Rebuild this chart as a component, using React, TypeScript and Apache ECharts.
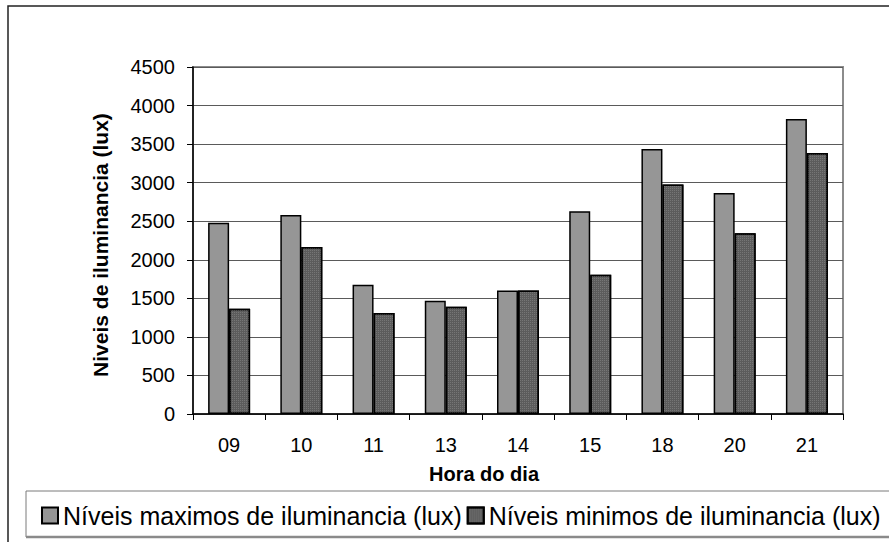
import React, { useEffect, useRef } from "react";
import * as echarts from "echarts";

const categories = ["09", "10", "11", "13", "14", "15", "18", "20", "21"];
const maxValues = [2480, 2580, 1675, 1470, 1600, 2630, 3435, 2865, 3825];
const minValues = [1365, 2165, 1310, 1390, 1600, 1805, 2975, 2345, 3385];
const seriesNames = [
  "Níveis maximos de iluminancia (lux)",
  "Níveis minimos de iluminancia (lux)",
];
const xTitle = "Hora do dia";
const yTitle = "Niveis de iluminancia (lux)";

const FONT = "'Liberation Sans', Arial, sans-serif";

export default function App() {
  const ref = useRef<HTMLDivElement>(null);
  useEffect(() => {
    if (!ref.current) return;
    const chart = echarts.init(ref.current, null, { renderer: "svg" });
    chart.setOption({
      animation: false,
      backgroundColor: "#ffffff",
      textStyle: { fontFamily: FONT },
      grid: {
        left: 193,
        right: 46,
        top: 67,
        bottom: 128,
        show: true,
        borderColor: "#8c8c8c",
        borderWidth: 2,
        backgroundColor: "transparent",
      },
      legend: {
        left: 36,
        top: 498,
        itemWidth: 16,
        itemHeight: 16,
        itemGap: 5,
        icon: "rect",
        textStyle: { fontSize: 25, color: "#000", fontFamily: FONT },
        data: seriesNames,
      },
      xAxis: {
        type: "category",
        data: categories,
        axisLine: { show: true, lineStyle: { color: "#000", width: 1.5 } },
        axisTick: { show: true, length: 6, alignWithLabel: false, interval: 0, lineStyle: { color: "#000" } },
        axisLabel: { fontSize: 20, color: "#000", margin: 21, fontFamily: FONT },
        splitLine: { show: false },
      },
      yAxis: {
        type: "value",
        min: 0,
        max: 4500,
        interval: 500,
        axisLine: { show: true, lineStyle: { color: "#000", width: 1.5 } },
        axisTick: { show: true, length: 6, lineStyle: { color: "#000" } },
        axisLabel: {
          fontSize: 20,
          color: "#000",
          margin: 18,
          fontFamily: FONT,
          formatter: (v: number) => String(v),
        },
        splitLine: { show: true, lineStyle: { color: "#5a5a5a", width: 1 } },
      },
      series: [
        {
          name: seriesNames[0],
          type: "bar",
          data: maxValues,
          barWidth: 21,
          barGap: "0%",
          itemStyle: { color: "#969696", borderColor: "#000", borderWidth: 1.5 },
        },
        {
          name: seriesNames[1],
          type: "bar",
          data: minValues,
          barWidth: 21,
          itemStyle: {
            color: "#5c5c5c",
            borderColor: "#000",
            borderWidth: 1.5,
            decal: {
              symbol: "rect",
              symbolSize: 1,
              dashArrayX: [1, 1],
              dashArrayY: [1, 1],
              color: "rgba(140,140,140,0.55)",
            },
          },
        },
      ],
      graphic: [
        {
          type: "rect",
          shape: { x: 8, y: 6, width: 1000, height: 1000 },
          style: { fill: "none", stroke: "#222", lineWidth: 1.5 },
          silent: true,
          z: -10,
        },
        {
          type: "rect",
          shape: { x: 26, y: 491, width: 1000, height: 46 },
          style: { fill: "#fff", stroke: "#7a7a7a", lineWidth: 1 },
          silent: true,
          z: -5,
        },
        {
          type: "line",
          shape: { x1: 26, y1: 537, x2: 900, y2: 537 },
          style: { stroke: "#8a8a8a", lineWidth: 2.5 },
          silent: true,
          z: -4,
        },
        {
          type: "text",
          x: 484,
          y: 474,
          style: {
            text: xTitle,
            font: `bold 20px ${FONT}`,
            fill: "#000",
            align: "center",
            verticalAlign: "middle",
          },
        },
        {
          type: "text",
          x: 100,
          y: 245,
          rotation: Math.PI / 2,
          style: {
            text: yTitle,
            font: `bold 21px ${FONT}`,
            fill: "#000",
            align: "center",
            verticalAlign: "middle",
          },
        },
      ],
    });
    return () => chart.dispose();
  }, []);
  return (
    <div
      ref={ref}
      style={{ position: "absolute", left: 0, top: 0, width: 889, height: 542 }}
    />
  );
}
